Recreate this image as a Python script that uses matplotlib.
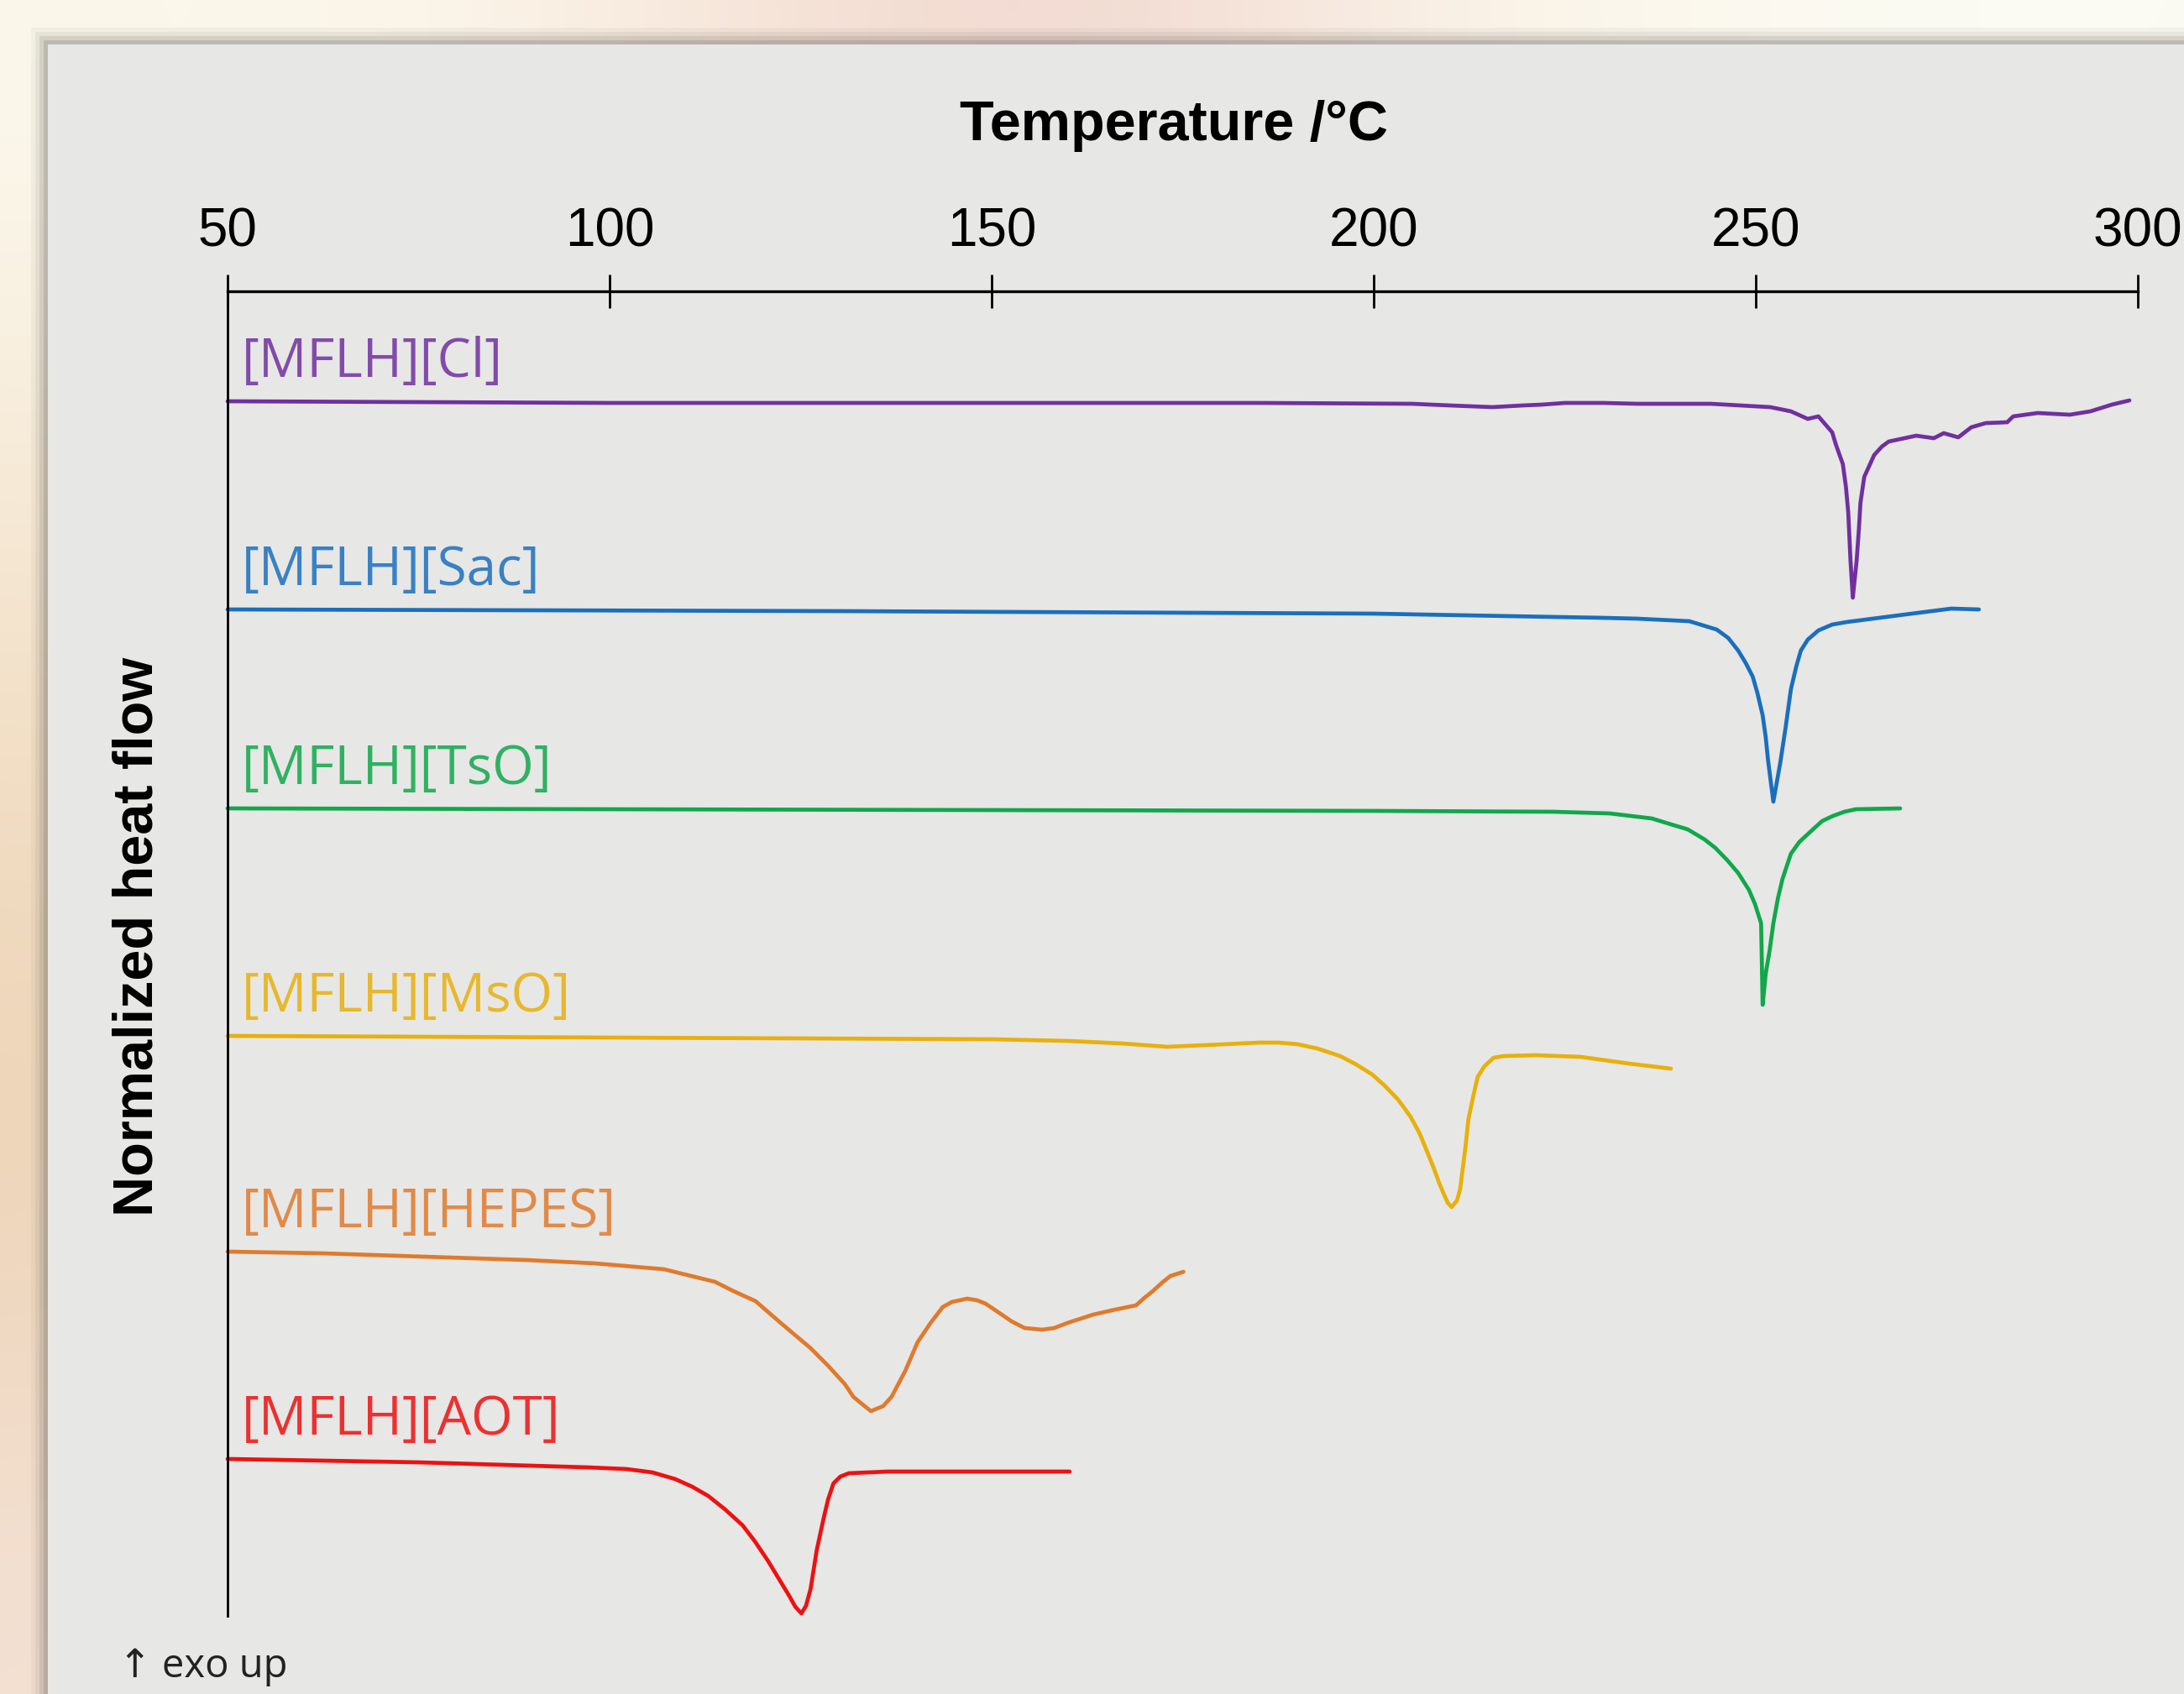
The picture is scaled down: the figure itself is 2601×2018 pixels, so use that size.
import numpy as np
import matplotlib
matplotlib.use("Agg")
import matplotlib.pyplot as plt
from matplotlib.patches import Rectangle

# ---------------- data (temperature in °C, heat flow in arbitrary units) -------------
names = ["[MFLH][Cl]", "[MFLH][Sac]", "[MFLH][TsO]", "[MFLH][MsO]", "[MFLH][HEPES]", "[MFLH][AOT]"]
colors = ["#7030A0", "#1A6FBD", "#10A84A", "#E8B00C", "#E07A2C", "#EE1111"]
offsets = [-13.1, -37.9, -61.6, -88.7, -114.4, -139.1]

cl_T = [50, 100, 150, 185, 205, 210, 215.5, 219.5, 222, 225, 230, 234.5, 244.1, 251.9, 254.6,
        256.8, 258.2, 260.0, 260.5, 261.4, 261.8, 262.1, 262.4, 262.7, 263.2, 263.5, 263.7,
        264.2, 265.5, 266.5, 267.4, 271.0, 273.3, 274.6, 276.5, 278.2, 280.1, 282.9, 283.7,
        286.9, 291.1, 293.8, 296.6, 298.9]
cl_h = [0, -0.2, -0.2, -0.2, -0.3, -0.5, -0.7, -0.5, -0.4, -0.2, -0.2, -0.3, -0.3, -0.7, -1.2,
        -2.1, -1.8, -3.7, -5.2, -7.5, -10.2, -13.2, -19.0, -23.4, -19.0, -15.2, -12.1,
        -9.0, -6.4, -5.4, -4.8, -4.1, -4.4, -3.8, -4.3, -3.1, -2.6, -2.5, -1.8,
        -1.4, -1.6, -1.2, -0.4, 0.1]

sac_T = [50, 130, 200, 230, 234.5, 241.3, 244.9, 246.4, 247.7, 248.7, 249.6, 250.2, 250.9,
         251.3, 251.6, 252.3, 253.2, 253.9, 254.6, 255.3, 255.9, 256.8, 258.2, 260.0, 261.9,
         268.7, 275.6, 279.2]
sac_h = [0, -0.2, -0.5, -1.0, -1.1, -1.4, -2.4, -3.4, -4.9, -6.4, -8.0, -9.9, -12.6,
         -15.2, -17.9, -22.9, -18.3, -14.1, -9.5, -6.8, -4.9, -3.6, -2.5, -1.8, -1.5,
         -0.7, 0.1, 0.0]

tso_T = [50, 150, 200, 223.5, 230.9, 236.4, 238.9, 241.1, 243.3, 244.7, 246.3, 247.7, 249.1,
         249.9, 250.7, 250.9, 251.3, 251.8, 252.3, 252.9, 253.5, 254.6, 255.7, 257.6, 258.7,
         260.1, 261.6, 263.1, 268.9]
tso_h = [0, -0.2, -0.3, -0.4, -0.6, -1.2, -1.9, -2.5, -3.7, -4.7, -6.2, -7.7, -9.7,
         -11.4, -13.7, -23.4, -19.7, -17.0, -13.7, -10.7, -8.4, -5.4, -4.0, -2.4, -1.5,
         -0.9, -0.4, -0.1, 0.0]

mso_T = [50, 100, 150, 160, 167, 173, 178, 185, 187.6, 190.1, 192.6, 195.6, 197.7, 199.8,
         201.4, 203.2, 204.8, 206.0, 206.9, 207.8, 208.6, 209.2, 209.7, 210.2, 210.9, 211.3,
         212.0, 212.4, 213.0, 213.6, 214.5, 215.7, 217.0, 221.2, 227.1, 233.4, 238.9]
mso_h = [0, -0.2, -0.4, -0.6, -0.9, -1.3, -1.1, -0.8, -0.8, -1.0, -1.5, -2.4, -3.4, -4.6,
         -5.9, -7.6, -9.6, -11.6, -13.6, -15.6, -17.6, -18.9, -19.9, -20.4, -19.6, -18.3,
         -13.3, -9.9, -7.3, -4.9, -3.6, -2.6, -2.4, -2.3, -2.5, -3.3, -3.9]

hepes_T = [50, 62.3, 75.7, 89.1, 98.1, 107.1, 113.8, 116.2, 119.1, 122.4, 126.3, 128.6, 130.8,
           131.9, 133.1, 134.2, 135.8, 136.9, 138.7, 140.3, 142.0, 143.6, 144.8, 146.8, 148.1,
           149.2, 151.0, 152.6, 154.3, 156.6, 158.2, 159.9, 161.6, 163.3, 166.2, 168.9, 170.0,
           171.1, 172.3, 173.4, 175.1]
hepes_h = [0, -0.2, -0.6, -1.0, -1.4, -2.1, -3.6, -4.7, -5.9, -8.5, -11.5, -13.6, -15.8,
           -17.3, -18.2, -19.0, -18.4, -17.3, -14.2, -10.8, -8.5, -6.6, -6.0, -5.6, -5.8,
           -6.2, -7.3, -8.3, -9.1, -9.3, -9.1, -8.5, -8.0, -7.5, -6.9, -6.4, -5.5,
           -4.7, -3.7, -2.9, -2.4]

aot_T = [50, 75, 97.1, 102.2, 105.6, 108.6, 110.8, 112.9, 115.1, 117.4, 119.0, 120.7, 122.1,
         123.5, 124.3, 125.1, 125.7, 126.3, 127.1, 128.0, 128.6, 129.3, 130.2, 131.3, 136.4, 160.2]
aot_h = [0, -0.4, -1.0, -1.2, -1.6, -2.4, -3.3, -4.4, -6.0, -7.9, -9.8, -12.1, -14.2,
         -16.3, -17.6, -18.4, -17.5, -15.5, -10.9, -7.1, -4.8, -2.9, -2.1, -1.7, -1.5, -1.5]

x_ticks = [50, 100, 150, 200, 250, 300]
x_label = "Temperature /°C"
y_label = "Normalized heat flow"
note = "↑ exo up"

series_T = [cl_T, sac_T, tso_T, mso_T, hepes_T, aot_T]
series_h = [cl_h, sac_h, tso_h, mso_h, hepes_h, aot_h]

# ---------------- figure ----------------
W, H = 2601, 2018
fig = plt.figure(figsize=(W / 100, H / 100), dpi=100)
fig.patch.set_facecolor("#fbf6ea")

# blurred background behind the panel
bg = fig.add_axes([0, 0, 1, 1], zorder=-10)
grid = np.array([
    [[251, 248, 236], [252, 246, 234], [246, 226, 214], [240, 214, 206], [250, 240, 228], [252, 250, 240], [251, 251, 244]],
    [[246, 232, 212], [250, 244, 232], [247, 240, 230], [246, 238, 230], [248, 244, 236], [250, 248, 240], [250, 250, 244]],
    [[240, 218, 190], [248, 240, 228], [246, 242, 236], [246, 242, 236], [246, 244, 238], [248, 246, 240], [248, 248, 244]],
    [[236, 210, 180], [246, 236, 222], [246, 242, 236], [246, 242, 236], [246, 244, 238], [248, 246, 240], [248, 248, 244]],
    [[244, 224, 210], [248, 238, 226], [246, 242, 236], [246, 242, 236], [246, 244, 238], [248, 246, 240], [248, 248, 244]],
], dtype=float) / 255.0
bg.imshow(grid, extent=[0, 1, 0, 1], aspect="auto", interpolation="bicubic", origin="upper")
bg.set_axis_off()

# panel with a soft shadow
px0, py0 = 57 / W, 53 / H
for i, a in enumerate([0.05, 0.08, 0.12, 0.18]):
    d = (4 - i) * 5
    fig.patches.append(Rectangle((px0 - d / W, 0), 1, 1 - py0 + d / H, transform=fig.transFigure,
                                 facecolor="#5a5550", alpha=a, edgecolor="none", zorder=-6))
fig.patches.append(Rectangle((px0, 0), 1, 1 - py0, transform=fig.transFigure,
                             facecolor="#e7e7e6", edgecolor="none", zorder=-5))

# main axes
left, right = 271 / W, 2546 / W
top, bottom = 1 - 347 / H, 1 - 1925 / H
ax = fig.add_axes([left, bottom, right - left, top - bottom])
ax.set_facecolor("none")
ax.set_xlim(50, 300)
ax.set_ylim(-157.8, 0)

for T, h, off, c in zip(series_T, series_h, offsets, colors):
    ax.plot(T, np.asarray(h) + off, color=c, lw=3.4, solid_joinstyle="round",
            solid_capstyle="round", clip_on=False)

for name, off, c in zip(names, offsets, colors):
    ax.text(51.9, off + 2.9, name, color=c, alpha=0.85, fontsize=46,
            family=["Open Sans", "DejaVu Sans"], ha="left", va="baseline")

for s in ["right", "bottom"]:
    ax.spines[s].set_visible(False)
ax.spines["top"].set_linewidth(2.4)
ax.spines["left"].set_linewidth(2.0)
ax.xaxis.tick_top()
ax.set_xticks(x_ticks)
ax.set_xticklabels([str(t) for t in x_ticks], family="Liberation Sans", fontsize=46)
ax.tick_params(axis="x", direction="inout", length=29, width=2.0, pad=15, colors="black")
ax.set_yticks([])

fig.text(1398 / W, 1 - 167 / H, x_label, ha="center", va="baseline", fontsize=48,
         fontweight="bold", family="Liberation Sans")
fig.text(182 / W, 1 - 1116 / H, y_label, ha="center", va="baseline", rotation=90,
         rotation_mode="anchor", fontsize=48, fontweight="bold", family="Liberation Sans")
fig.text(141 / W, 1 - 1998 / H, note, ha="left", va="baseline", fontsize=34,
         family=["Open Sans", "DejaVu Sans"], color="#222222")

fig.savefig("out.png", dpi=100)
